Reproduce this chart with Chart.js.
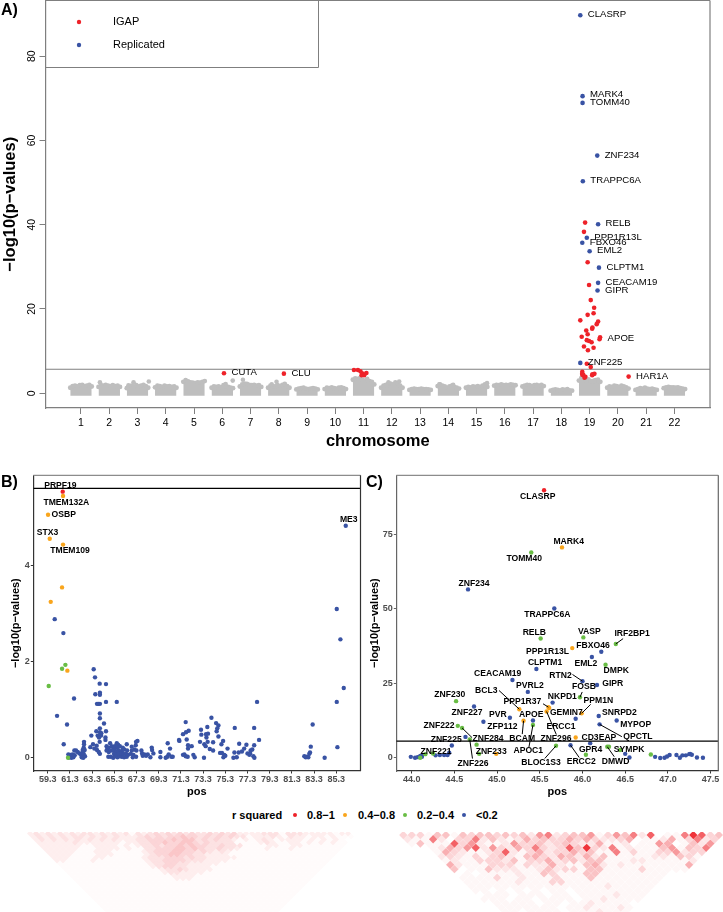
<!DOCTYPE html>
<html>
<head>
<meta charset="utf-8">
<script src="https://cdn.jsdelivr.net/npm/chart.js@4"></script>
<style>
  body { margin: 0; background: #fff; width: 723px; height: 912px; overflow: hidden; position: relative; font-family: "Liberation Sans", Arial, sans-serif; }
  canvas { position: absolute; display: block; }
  .key { position: absolute; top: 808px; font-size: 11px; line-height: 14px; color: #000; white-space: nowrap; font-weight: bold; }
  .dot { position: absolute; top: 813px; width: 4px; height: 4px; border-radius: 50%; }
</style>
</head>
<body>
<canvas id="chartA" width="723" height="462" style="left:0;top:0"></canvas>
<canvas id="chartB" width="362" height="330" style="left:0;top:470px"></canvas>
<canvas id="chartC" width="361" height="330" style="left:362px;top:470px"></canvas>
<canvas id="heatLeft" width="330" height="80" style="left:27px;top:832px"></canvas>
<canvas id="heatRight" width="324" height="80" style="left:399px;top:832px"></canvas>
<span class="key" style="left:232px">r squared</span>
<span class="dot" style="left:293px;background:#ee2229"></span>
<span class="key" style="left:307px">0.8−1</span>
<span class="dot" style="left:343px;background:#f9a51c"></span>
<span class="key" style="left:358px">0.4−0.8</span>
<span class="dot" style="left:403px;background:#69bd45"></span>
<span class="key" style="left:417px">0.2−0.4</span>
<span class="dot" style="left:462px;background:#3953a4"></span>
<span class="key" style="left:476px">&lt;0.2</span>
<script>
    const RED = '#ee2229', ORANGE = '#f9a51c', GREEN = '#69bd45', BLUE = '#3953a4', GRAY = '#bebebe';

    // panel A: manhattan, tick = chromosome number
    const chromosomes = [1, 2, 3, 4, 5, 6, 7, 8, 9, 10, 11, 12, 13, 14, 15, 16, 17, 18, 19, 20, 21, 22];
    const aYTicks = [0, 20, 40, 60, 80];
    const gwasLine = 5.7;
    // top of the grey mass along each chromosome
    const chrProfile = [
        [1.3, 1.7, 1.8, 1.6, 1.9, 2.0, 1.7, 1.8, 2.0, 1.6],
        [1.5, 1.9, 1.8, 2.0, 1.8, 1.7, 1.9, 1.7, 1.8, 1.5],
        [1.2, 1.5, 1.8, 1.6, 1.9, 1.6, 1.8, 2.0, 1.7, 1.3],
        [1.4, 1.8, 1.7, 1.5, 1.8, 1.6, 1.7, 1.5, 1.6, 1.3],
        [2.7, 3.1, 2.8, 2.6, 2.5, 2.4, 2.6, 2.5, 2.7, 2.9],
        [1.3, 1.6, 1.5, 1.6, 1.4, 1.9, 1.6, 1.5, 1.3, 1.2],
        [1.6, 2.1, 2.3, 2.2, 2.0, 1.9, 2.0, 1.8, 1.9, 1.5],
        [1.3, 1.8, 1.7, 1.6, 1.9, 1.7, 2.0, 2.2, 1.7, 1.3],
        [0.9, 1.1, 1.2, 1.3, 1.1, 1.0, 1.1, 1.2, 1.1, 0.9],
        [1.0, 1.3, 1.2, 1.4, 1.2, 1.1, 1.3, 1.4, 1.2, 1.0],
        [3.2, 3.5, 3.4, 3.6, 3.2, 3.0, 3.4, 2.9, 2.7, 2.1],
        [1.3, 1.8, 2.0, 1.9, 2.3, 2.1, 2.6, 2.3, 1.8, 1.3],
        [0.8, 1.0, 1.1, 1.0, 1.0, 1.1, 1.0, 1.0, 0.9, 0.8],
        [1.7, 2.1, 1.8, 1.6, 1.3, 1.6, 1.8, 1.5, 1.3, 1.1],
        [1.3, 1.5, 1.4, 1.6, 1.5, 1.7, 1.5, 1.8, 2.1, 1.5],
        [1.8, 2.0, 1.9, 2.1, 1.9, 2.0, 1.9, 2.1, 2.0, 1.9],
        [1.6, 1.8, 2.0, 1.9, 1.7, 1.9, 2.0, 1.8, 2.0, 1.7],
        [0.6, 0.8, 0.9, 0.8, 0.7, 0.9, 0.8, 1.0, 0.7, 0.6],
        [3.0, 3.6, 3.1, 3.0, 3.3, 2.9, 2.8, 3.1, 3.2, 2.7],
        [1.3, 1.6, 1.5, 1.8, 1.7, 1.5, 1.8, 1.6, 1.4, 1.1],
        [0.8, 1.0, 1.2, 1.1, 1.3, 1.1, 1.0, 1.1, 0.9, 0.8],
        [1.2, 1.4, 1.5, 1.4, 1.4, 1.3, 1.4, 1.2, 1.1, 1.0]
    ];
    const aGrayOutliers = [[1.67, 2.6], [2.68, 1.9], [2.86, 2.6], [3.4, 2.8], [6.12, 2.2], [6.37, 3], [6.73, 3.2], [7.92, 2.7], [7.75, 2.1],
        [11.88, 2.6], [12.26, 2.8], [13.68, 2.1], [14.17, 2], [15.37, 2.4], [19.16, 3]];
    const aRed = [[6.06, 4.75], [8.18, 4.65], [10.66, 5.5], [10.8, 5.5], [10.89, 5.2], [10.97, 4.7], [11.1, 4.8], [11.02, 4.3], [10.93, 4.3],
        [18.84, 40.5], [18.8, 38.3], [18.93, 31.1], [18.98, 25.7], [19.04, 22.1], [19.16, 20.3], [19.14, 19], [18.93, 18.6], [18.67, 17.3],
        [19.3, 17], [19.25, 16.4], [19.1, 15.6], [19.09, 15.3], [18.88, 14.9], [18.93, 14], [18.72, 13.4], [19.37, 13.3], [19.35, 12.8],
        [18.9, 12.6], [18.98, 12.4], [19.07, 12.1], [18.8, 11.1], [19.14, 10.8], [18.94, 10.2], [18.9, 7], [19.04, 6.2], [18.74, 5.1],
        [18.74, 4.7], [18.78, 4.3], [18.85, 3.9], [18.74, 4.4], [19.1, 4.5], [19.17, 4.6], [19.09, 4.3], [18.82, 3.7], [20.38, 3.95]];
    const aBlue = [[18.67, 89.7], [18.75, 70.5], [18.75, 68.9], [19.27, 56.4], [18.76, 50.3], [19.3, 40.1], [18.9, 36.9], [18.74, 35.7],
        [19, 33.7], [19.33, 29.8], [19.3, 26.2], [19.28, 24.4], [18.67, 7.2]];
    const aGenes = [['CLASRP', 18.67, 89.7], ['MARK4', 18.75, 70.8], ['TOMM40', 18.75, 68.9], ['ZNF234', 19.27, 56.4], ['TRAPPC6A', 18.76, 50.3],
        ['RELB', 19.3, 40.1], ['PPP1R13L', 18.9, 36.9], ['FBXO46', 18.74, 35.7], ['EML2', 19, 33.7], ['CLPTM1', 19.33, 29.8],
        ['CEACAM19', 19.3, 26.2], ['GIPR', 19.28, 24.4], ['APOE', 19.37, 12.8], ['ZNF225', 18.67, 7.2], ['CUTA', 6.06, 4.75], ['CLU', 8.18, 4.65],
        ['HAR1A', 20.38, 3.95]];

    // panel B
    const bXTicks = [59.3, 61.3, 63.3, 65.3, 67.3, 69.3, 71.3, 73.3, 75.3, 77.3, 79.3, 81.3, 83.3, 85.3];
    const bYTicks = [0, 2, 4];
    const bLine = 5.6;
    const bRed = [[60.65, 5.53]];
    const bOrange = [[60.68, 5.44], [59.33, 5.05], [59.48, 4.55], [60.68, 4.43], [60.59, 3.54], [59.57, 3.24], [61.07, 1.81]];
    const bGreen = [[60.59, 1.85], [60.89, 1.93], [59.39, 1.49], [61.13, 0]];
    const bBlue = [[59.93, 2.88], [60.71, 2.59], [86.15, 4.82], [85.34, 3.09], [85.67, 2.46], [85.97, 1.45], [85.34, 1.16], [85.4, 0.22], [84.25, 0],
        [83.17, 0.69], [83, 0.23], [82.93, 0.11], [82.87, 0.08], [82.78, 0.01], [82.66, 0.02], [82.55, 0.01], [82.42, 0.03],
        [63.44, 1.84], [63.56, 1.67], [63.98, 1.54], [64.55, 1.53], [61.67, 1.23], [63.59, 1.32], [64, 1.35], [64, 1.31], [63.74, 1.12], [63.86, 1.12],
        [64, 1.12], [64.55, 1.16], [65.52, 1.16], [60.14, 0.87], [64, 0.92], [64, 0.82], [61.04, 0.69], [64.37, 0.71], [64, 0.61], [63.68, 0.55],
        [64, 0.53], [64.13, 0.51], [64.55, 0.55], [63.23, 0.46], [63.8, 0.46], [64.1, 0.46], [63.92, 0.42], [64.5, 0.42], [64.5, 0.37], [63.98, 0.33],
        [63.38, 0.28], [63.14, 0.22], [63.71, 0.25], [63.5, 0.19], [63.74, 0.16], [63.9, 0.12], [64, 0.08], [60.74, 0.28],
        [61.16, 0.07], [61.25, 0.01], [61.43, 0], [61.19, 0.01], [61.31, 0.06], [61.52, 0.07], [61.61, 0.01], [61.73, 0.05], [61.7, 0.15], [61.85, 0.15],
        [62, 0.12], [62.15, 0.09], [62.3, 0.06], [62.42, 0.1], [62.54, 0.08], [62.36, 0.01], [62.5, 0], [62.66, 0.03], [62.57, 0.33], [62.57, 0.28],
        [62.54, 0.21], [62.63, 0.16], [62.45, 0.16],
        [64.6, 0.24], [64.68, 0.19], [64.6, 0.15], [64.8, 0.21], [64.92, 0.3], [65.07, 0.24], [65.2, 0.21], [65.35, 0.24], [65.52, 0.3], [65.64, 0.27],
        [65.58, 0.21], [65.8, 0.24], [64.8, 0.12], [65, 0.15], [65.2, 0.15], [65.35, 0.16], [65.5, 0.12], [65.7, 0.15], [65.87, 0.12], [64.76, 0.02],
        [64.98, 0.02], [65.2, 0], [65.36, 0.03], [65.58, 0.01], [65.76, 0.03], [65.97, 0.02], [66.18, 0.01], [66.42, 0.02], [65.27, 0.08], [65.48, 0.07],
        [65.7, 0.08], [65.94, 0.09], [66.12, 0.08], [66.36, 0.08], [66.54, 0.06], [66.03, 0.16], [66.2, 0.17], [66.45, 0.15], [66.42, 0.28], [66.06, 0.21],
        [66.87, 0.23], [67.23, 0.26], [67.11, 0.17], [66.87, 0.15], [66.78, 0.08], [67.02, 0.06], [67.26, 0.02], [66.96, 0.01], [67.29, 0.15], [67.38, 0.35], [67.26, 0.33],
        [67.74, 0.15], [67.8, 0.09], [67.86, 0.04], [68.01, 0.07], [68.16, 0.04], [68.31, 0.07], [68.55, 0.01], [68.67, 0.21], [68.7, 0.16], [68.82, 0.09],
        [69.45, 0.12], [69.45, 0.01], [69.93, 0], [70.08, 0.02], [70.11, 0.3], [70.32, 0.19], [70.2, 0.07], [70.44, 0.02], [70.56, 0.02],
        [71.13, 0.37], [71.16, 0.35], [71.49, 0.49], [71.73, 0.74], [71.76, 0.53], [72, 0.56], [71.82, 0.38], [71.94, 0.26], [72.27, 0.24], [71.94, 0.19],
        [71.49, 0.06], [71.61, 0.07], [71.73, 0.03], [71.91, 0.02], [72.42, 0.06], [72.54, 0.01], [73.38, 0], [73.11, 0.58], [73.14, 0.48], [73.02, 0.33],
        [73.56, 0.49], [73.68, 0.64], [73.74, 0.5], [73.6, 0.42], [73.71, 0.33], [73.41, 0.28], [73.53, 0.24], [73.9, 0.18], [74.2, 0.15], [74.2, 0.32],
        [74.05, 0.83], [74.47, 0.72], [74.68, 0.67], [74.58, 0.61], [74.52, 0.55], [74.68, 0.44], [74.95, 0.28], [75.1, 0.35], [74.83, 0.1], [75, 0.1],
        [75.2, 0.06], [75.13, 0.01], [75.3, 0.04], [75.5, 0.19], [76.15, 0.62], [76.12, 0.11], [76.33, 0.01], [76.03, 0], [76.5, 0.11], [76.55, 0.29],
        [76.8, 0.13], [77, 0.19], [77.2, 0.27], [77.3, 0.09], [77.47, 0.06], [77.58, 0.15], [77.73, 0.17], [77.9, 0.26], [77.9, 0.62], [78.16, 1.16],
        [78.34, 0.37], [77.83, 0.03], [77.92, 0], [77.54, 0.09]];
    // name, pos, value, label shift (px)
    const bGenes = [['PRPF19', 60.65, 5.53, -2.3, -6], ['TMEM132A', 60.68, 5.44, 3.3, 6.3], ['OSBP', 59.33, 5.05, 15.7, 0], ['STX3', 59.48, 4.55, -2.3, -5.7],
        ['TMEM109', 60.68, 4.43, 7, 6], ['ME3', 86.15, 4.82, 3, -6]];

    // panel C
    const cXTicks = [44, 44.5, 45, 45.5, 46, 46.5, 47, 47.5];
    const cYTicks = [0, 25, 50, 75];
    const cLine = 5.6;
    const cRed = [[45.55, 89.8]];
    const cOrange = [[45.76, 70.6], [45.88, 36.8], [45.26, 16.3], [45.6, 17], [45.61, 16.7], [45.58, 15.5], [45.99, 14.9], [45.31, 12.4], [45.92, 6.8], [44.99, 1.3]];
    const cGreen = [[45.4, 68.9], [45.51, 40], [46.01, 40.4], [46.39, 38.2], [46.27, 31.2], [45.97, 20.3], [44.52, 19], [44.54, 10.7], [44.59, 10], [44.68, 6.1],
        [44.76, 4.4], [44.79, 1.3], [45.42, 11], [45.69, 4], [46.04, 1], [46.29, 3.7], [46.31, 3.7], [46.44, 2.6], [46.8, 1.1], [44.1, 0], [44.16, 1.2], [44.25, 1.4]];
    const cBlue = [[44.66, 56.5], [45.67, 50.1], [46.22, 35.6], [46.11, 33.8], [45.46, 29.8], [45.18, 26.1], [46, 25.7], [46.17, 24.4], [45.36, 22.1], [45.65, 18.5],
        [44.73, 17.2], [46.19, 14], [46.4, 12.5], [45.92, 13.1], [45.42, 12.5], [45.15, 13.4], [44.84, 12.1], [46.2, 11.2], [44.63, 7], [44.47, 4.1], [46.09, 4.9],
        [45.86, 4.2], [46.5, 1.3], [46.55, 0.1], [43.99, 0.3], [44.04, 0], [44.07, 0.2], [44.1, 0.6], [44.12, 0.8], [44.12, 0.3], [44.28, 0.8], [44.33, 0.9],
        [44.38, 0.9], [44.42, 0.9], [44.44, 1.7], [46.85, 0.3], [46.91, -0.1], [46.96, 0], [46.99, 0.4], [47.02, 0.9], [47.1, 0.9], [47.14, 0], [47.17, 0.8],
        [47.21, 0.8], [47.25, 1.2], [47.26, 1.3], [47.28, 1], [47.34, 0.1], [47.41, 0]];
    // name, pos, value, label shift (px), optional connector end (px from point)
    const cGenes = [['CLASRP', 45.55, 89.8, -6.3, 6], ['MARK4', 45.76, 70.6, 6.7, -5.3], ['TOMM40', 45.4, 68.9, -7, 6], ['ZNF234', 44.66, 56.5, 6, -6],
        ['TRAPPC6A', 45.67, 50.1, -7, 6], ['RELB', 45.51, 40, -6.3, -6.3], ['VASP', 46.01, 40.4, 6, -6], ['IRF2BP1', 46.39, 38.2, 16.3, -10.7, 7.3, -5.3],
        ['PPP1R13L', 45.88, 36.8, -24.7, 3.3], ['FBXO46', 46.22, 35.6, -8.3, -6], ['EML2', 46.11, 33.8, -6, 6.3], ['CLPTM1', 45.46, 29.8, 8.7, -6.3],
        ['DMPK', 46.27, 31.2, 10.7, 6.3], ['CEACAM19', 45.18, 26.1, -14.7, -6], ['RTN2', 46, 25.7, -22, -6, -10, -6.7], ['GIPR', 46.17, 24.4, 15.7, -1.7],
        ['PVRL2', 45.36, 22.1, 2, -6.3], ['FOSB', 45.97, 20.3, 4, -10.3, 2.3, -5.3], ['BCL3', 45.26, 16.3, -33, -18.7, -20.3, -18.7], ['ZNF230', 44.52, 19, -6.3, -6.3],
        ['NKPD1', 45.65, 18.5, 9.7, -6], ['PPP1R37', 45.6, 17, -26, -5, -5.3, -3.3], ['PPM1N', 45.99, 14.9, 16.7, -13, 9, -9], ['ZNF227', 44.73, 17.2, -7, 6],
        ['PVR', 45.15, 13.4, -12, -3.3], ['APOE', 45.42, 12.5, -1.7, -6], ['GEMIN7', 45.92, 13.1, -9.3, -6], ['SNRPD2', 46.19, 14, 20.7, -3.3],
        ['ZNF222', 44.54, 10.7, -18.7, -0.7], ['ZFP112', 44.84, 12.1, 19, 5.3], ['MYPOP', 46.4, 12.5, 19, 4.3], ['ERCC1', 45.92, 6.8, -14.7, -10.7],
        ['BCAM', 45.31, 12.4, -1.3, 18, -1.3, 13.3], ['ZNF225', 44.63, 7, -19.3, 2.7], ['ZNF284', 44.59, 10, 26, 10.7, 10, 9.7], ['ZNF296', 45.58, 15.5, 9.3, 26.7, 9.7, 23],
        ['CD3EAP', 46.09, 4.9, 8.7, -6], ['QPCTL', 46.2, 11.2, 38.3, 12.7, 22.3, 12.3], ['ZNF233', 44.79, 1.3, 12, -2.7], ['GPR4', 46.04, 1, 4.7, -5.3],
        ['SYMPK', 46.44, 2.6, 9, -0.7], ['ZNF221', 44.16, 1.2, 10.7, -2.7], ['APOC1', 45.42, 11, -4.7, 26, -4, 22], ['ZNF226', 44.68, 6.1, 3.3, 23.7, 2.7, 19],
        ['BLOC1S3', 45.69, 4, -15, 17.3, -11.3, 12.7], ['ERCC2', 45.86, 4.2, 10.7, 16.3, 8.7, 12.3], ['DMWD', 46.29, 3.7, 8.3, 14.7, 7, 10]];

    // LD triangles, one string per row from the top, digit = r squared shade
    const ldLeftRows = [
        '232323232332323231323434343433434342222333133322222122',
        '232323233232323222343434454434343433122232132212212111',
        '2323232323232322233444454553434332121232122221212121',
        '2222223222222212233445445543433331111232112212121211',
        '222222211222212123343445454433433311112211221111111',
        '22222211122221211334445545433433211112111211111111',
        '2222211122211111234445544343232111111111111111111',
        '222211112221111123445544332222111111111111111111',
        '22211112211111123334443433222221111111111111111',
        '2211112111111112334444333222211111111111111111',
        '111111111111111233443322222111111111111111111',
        '11111111111111123443322221111111111111111111',
        '1111111111111111233432222111111111111111111',
        '111111111111111123322221111111111111111111',
        '11111111111111111222211111111111111111111',
        '1111111111111111122211111111111111111111',
        '111111111111111111111111111111111111111',
        '11111111111111111111111111111111111111',
        '1111111111111111111111111111111111111',
        '111111111111111111111111111111111111',
        '11111111111111111111111111111111111',
        '1111111111111111111111111111111111',
        '111111111111111111111111111111111',
        '11111111111111111111111111111111',
        '1111111111111111111111111111111',
        '111111111111111111111111111111',
        '11111111111111111111111111111'
    ];
    const ldRightRows = [
        '33314414344343426723446136472801179834',
        '2117203372421253433535322350112513723',
        '141118362112633423432251120116501426',
        '00125368263253732384932712111461437',
        '0015321123821352335341171311336233',
        '002321313421453254252411111221431',
        '00121133324133523424411122111112',
        '0052111333132252114521211111115',
        '004011422211242331441111311111',
        '00010111121143111441111111100',
        '0011113112111311141111111100',
        '001111112111331111111111100',
        '00111111111111111121111100',
        '0011010101011011111111100',
        '000111011101101111211100',
        '00111011011110112111100',
        '0001111101101121111000',
        '000111111101121112100',
        '00011011110111211100'
    ];
    const ldLeftAlpha = [0, 0.02, 0.08, 0.13, 0.19, 0.26];
    const ldRightAlpha = [0, 0.035, 0.11, 0.19, 0.27, 0.36, 0.46, 0.58, 0.72, 0.92];

    const FONT = '"Liberation Sans", Arial, sans-serif';
    Chart.defaults.font.family = FONT;
    Chart.defaults.animation = false;
    Chart.defaults.responsive = false;
    Chart.defaults.devicePixelRatio = 1;
    Chart.defaults.plugins.legend.display = false;
    Chart.defaults.plugins.tooltip.enabled = false;

    function toPoints(pairs) {
        return pairs.map(p => ({ x: p[0], y: p[1] }));
    }

    function dots(pairs, color, radius) {
        return { data: toPoints(pairs), backgroundColor: color, pointRadius: radius, borderWidth: 0, pointBorderWidth: 0, showLine: false };
    }

    function hLine(value, xMin, xMax, color, width) {
        return { data: [{ x: xMin, y: value }, { x: xMax, y: value }], showLine: true, borderColor: color, borderWidth: width, pointRadius: 0 };
    }

    function axis(opts) {
        return {
            type: 'linear',
            min: opts.min,
            max: opts.max,
            afterBuildTicks: s => { s.ticks = opts.ticks.map(v => ({ value: v })); },
            afterFit: s => {
                if (s.isHorizontal()) s.height = opts.size; else s.width = opts.size;
                // tick labels must not push the plot area inwards
                s.paddingTop = s.paddingBottom = s.paddingLeft = s.paddingRight = 0;
            },
            border: { color: opts.lineColor, width: opts.lineWidth },
            grid: { drawOnChartArea: false, drawTicks: true, tickLength: opts.tickLength, tickColor: opts.lineColor, tickWidth: 1 },
            ticks: {
                autoSkip: false,
                maxRotation: opts.rotation || 0,
                minRotation: opts.rotation || 0,
                crossAlign: opts.rotation ? 'center' : 'near',
                padding: opts.tickPad,
                color: opts.tickColor,
                font: { size: opts.tickSize, weight: opts.tickWeight },
                callback: opts.format
            },
            title: {
                display: true,
                text: opts.title,
                color: '#000',
                font: { size: opts.titleSize, weight: 'bold' },
                padding: opts.titlePad
            }
        };
    }

    // frame sides, panel letter, gene labels
    function panelPlugin(cfg) {
        return {
            id: 'panel',
            afterDatasetsDraw(chart) {
                const ctx = chart.ctx, area = chart.chartArea;
                const sx = chart.scales.x, sy = chart.scales.y;
                ctx.save();
                ctx.lineWidth = 1.2;
                ctx.strokeStyle = cfg.topColor;
                ctx.beginPath();
                ctx.moveTo(area.left, area.top);
                ctx.lineTo(area.right, area.top);
                ctx.stroke();
                ctx.strokeStyle = cfg.rightColor;
                ctx.beginPath();
                ctx.moveTo(area.right, area.top);
                ctx.lineTo(area.right, area.bottom);
                ctx.stroke();

                ctx.fillStyle = '#000';
                ctx.strokeStyle = '#000';
                ctx.lineWidth = 1;
                ctx.textBaseline = 'middle';
                ctx.font = cfg.geneFont;
                ctx.textAlign = cfg.geneAlign;
                cfg.genes.forEach(g => {
                    const px = sx.getPixelForValue(g[1]), py = sy.getPixelForValue(g[2]);
                    if (g.length > 5) {
                        ctx.beginPath();
                        ctx.moveTo(px, py);
                        ctx.lineTo(px + g[5], py + g[6]);
                        ctx.stroke();
                    }
                    const dx = g.length > 3 ? g[3] : 7.5, dy = g.length > 3 ? g[4] : -0.5;
                    ctx.fillText(g[0], px + dx, py + dy);
                });

                ctx.textAlign = 'left';
                ctx.textBaseline = 'alphabetic';
                ctx.font = 'bold 16px ' + FONT;
                ctx.fillText(cfg.letter, cfg.letterX, cfg.letterY);
                if (cfg.after) cfg.after(ctx, area);
                ctx.restore();
            }
        };
    }

    // legend box of panel A, top left corner of the plot
    function drawLegendA(ctx, area) {
        ctx.strokeStyle = '#7f7f7f';
        ctx.lineWidth = 1;
        ctx.beginPath();
        ctx.moveTo(318.5, area.top);
        ctx.lineTo(318.5, 67.5);
        ctx.lineTo(area.left, 67.5);
        ctx.stroke();
        [['IGAP', RED, 22], ['Replicated', BLUE, 45]].forEach(item => {
            ctx.fillStyle = item[1];
            ctx.beginPath();
            ctx.arc(79, item[2], 2.2, 0, Math.PI * 2);
            ctx.fill();
            ctx.fillStyle = '#000';
            ctx.font = '11px ' + FONT;
            ctx.textBaseline = 'middle';
            ctx.fillText(item[0], 113, item[2]);
        });
    }

    const GRID_A = '#7f7f7f';
    const aXMin = -0.256, aXMax = 23.26;
    const massDatasets = chrProfile.map((heights, i) => ({
        data: heights.map((h, k) => ({ x: chromosomes[i] - 0.38 + 0.76 * k / (heights.length - 1), y: h })),
        showLine: true,
        borderWidth: 0,
        borderColor: GRAY,
        backgroundColor: GRAY,
        pointBackgroundColor: GRAY,
        pointRadius: 2.4,
        pointBorderWidth: 0,
        fill: { value: -0.6 }
    }));

    new Chart(document.getElementById('chartA'), {
        type: 'scatter',
        data: {
            datasets: [
                dots(aRed, RED, 2.3),
                dots(aBlue, BLUE, 2.3),
                hLine(gwasLine, aXMin, aXMax, GRID_A, 1.2),
                dots(aGrayOutliers, GRAY, 2.3)
            ].concat(massDatasets)
        },
        options: {
            layout: { autoPadding: false, padding: { top: 0.5, right: 13, left: 0, bottom: 0 } },
            scales: {
                x: axis({
                    min: aXMin, max: aXMax, ticks: chromosomes, size: 54, lineColor: GRID_A, lineWidth: 1.2, tickLength: 6, tickPad: 3,
                    tickColor: '#000', tickSize: 10.5, format: v => String(v), title: 'chromosome', titleSize: 16.5, titlePad: { top: 0, bottom: 11 }
                }),
                y: axis({
                    min: -3.5, max: 93.2, ticks: aYTicks, size: 45.5, lineColor: GRID_A, lineWidth: 1.2, tickLength: 6, tickPad: 2, rotation: 90,
                    tickColor: '#000', tickSize: 10.5, format: v => String(v), title: '−log10(p−values)', titleSize: 16.5, titlePad: { top: 1, bottom: 0 }
                })
            }
        },
        plugins: [panelPlugin({
            topColor: GRID_A, rightColor: GRID_A, genes: aGenes, geneFont: '9.6px ' + FONT, geneAlign: 'left',
            letter: 'A)', letterX: 1, letterY: 15, after: drawLegendA
        })]
    });

    const AXIS_DARK = '#333333';
    const bXMin = 58, bXMax = 87.48;
    new Chart(document.getElementById('chartB'), {
        type: 'scatter',
        data: {
            datasets: [
                hLine(bLine, bXMin, bXMax, '#000', 1.2),
                dots(bRed, RED, 2.2),
                dots(bOrange, ORANGE, 2.2),
                dots(bGreen, GREEN, 2.2),
                dots(bBlue, BLUE, 2.2)
            ]
        },
        options: {
            layout: { autoPadding: false, padding: { top: 5.3, right: 1.5, left: 0, bottom: 0 } },
            scales: {
                x: axis({
                    min: bXMin, max: bXMax, ticks: bXTicks, size: 29, lineColor: AXIS_DARK, lineWidth: 1.2, tickLength: 2.5, tickPad: 1,
                    tickColor: '#4d4d4d', tickSize: 9, tickWeight: 'bold', format: v => v.toFixed(1), title: 'pos', titleSize: 11, titlePad: { top: 0, bottom: 1.5 }
                }),
                y: axis({
                    min: -0.276, max: 5.87, ticks: bYTicks, size: 33.3, lineColor: AXIS_DARK, lineWidth: 1.2, tickLength: 2.5, tickPad: 1,
                    tickColor: '#4d4d4d', tickSize: 9, tickWeight: 'bold', format: v => String(v), title: '−log10(p−values)', titleSize: 11, titlePad: { top: 9, bottom: 0 }
                })
            }
        },
        plugins: [panelPlugin({
            topColor: '#8c8c8c', rightColor: AXIS_DARK, genes: bGenes, geneFont: 'bold 8.6px ' + FONT, geneAlign: 'center',
            letter: 'B)', letterX: 1, letterY: 17
        })]
    });

    const cXMin = 43.82, cXMax = 47.59;
    new Chart(document.getElementById('chartC'), {
        type: 'scatter',
        data: {
            datasets: [
                hLine(cLine, cXMin, cXMax, '#000', 1.2),
                dots(cRed, RED, 2.2),
                dots(cOrange, ORANGE, 2.2),
                dots(cGreen, GREEN, 2.2),
                dots(cBlue, BLUE, 2.2)
            ]
        },
        options: {
            layout: { autoPadding: false, padding: { top: 5.3, right: 4.7, left: 0, bottom: 0 } },
            scales: {
                x: axis({
                    min: cXMin, max: cXMax, ticks: cXTicks, size: 29, lineColor: AXIS_DARK, lineWidth: 1.2, tickLength: 2.5, tickPad: 1,
                    tickColor: '#4d4d4d', tickSize: 9, tickWeight: 'bold', format: v => v.toFixed(1), title: 'pos', titleSize: 11, titlePad: { top: 0, bottom: 1.5 }
                }),
                y: axis({
                    min: -4.45, max: 94.8, ticks: cYTicks, size: 34.3, lineColor: '#666666', lineWidth: 1.2, tickLength: 2.5, tickPad: 1,
                    tickColor: '#4d4d4d', tickSize: 9, tickWeight: 'bold', format: v => String(v), title: '−log10(p−values)', titleSize: 11, titlePad: { top: 6.4, bottom: 0 }
                })
            }
        },
        plugins: [panelPlugin({
            topColor: '#8c8c8c', rightColor: '#666666', genes: cGenes, geneFont: 'bold 8.6px ' + FONT, geneAlign: 'center',
            letter: 'C)', letterX: 4, letterY: 17
        })]
    });

    function ldChart(id, rows, alphas, radius, xMax, yMin, yMax) {
        const points = [];
        const colors = [];
        rows.forEach((row, r) => {
            row.split('').forEach((digit, c) => {
                const shade = Number(digit);
                if (shade === 0) return;
                points.push({ x: c + r / 2, y: r });
                colors.push('rgba(238,34,41,' + alphas[shade] + ')');
            });
        });
        new Chart(document.getElementById(id), {
            type: 'scatter',
            data: { datasets: [{ data: points, pointStyle: 'rectRot', pointRadius: radius, pointBorderWidth: 0, backgroundColor: colors }] },
            options: {
                layout: { autoPadding: false, padding: 0 },
                scales: {
                    x: { display: false, type: 'linear', min: -0.5, max: xMax },
                    y: { display: false, type: 'linear', reverse: true, min: yMin, max: yMax }
                }
            }
        });
    }

    ldChart('heatLeft', ldLeftRows, ldLeftAlpha, 3, 54.5, -0.5, 26.17);
    ldChart('heatRight', ldRightRows, ldRightAlpha, 4.15, 37.48, -0.7, 18.04);
</script>
</body>
</html>
